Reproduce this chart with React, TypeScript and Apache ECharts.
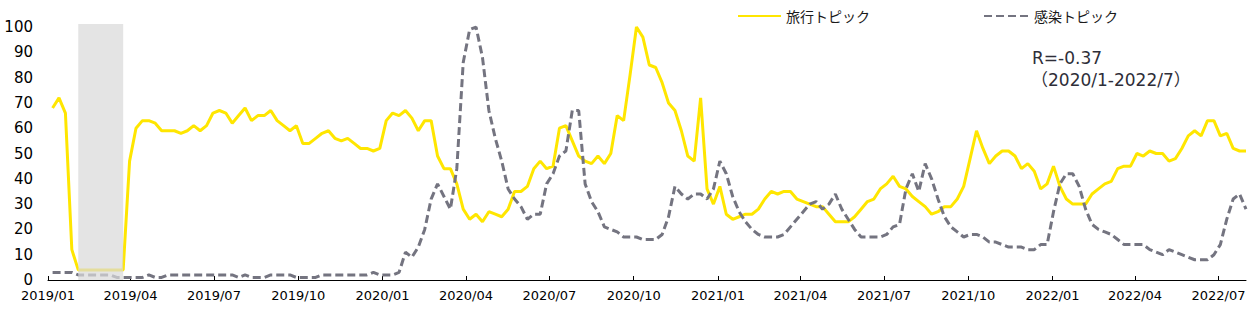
import React, { useEffect, useRef } from "react";
import * as echarts from "echarts";

// Weekly Google-Trends style series, first week starting 2019/01/06
const firstWeek = [2019, 0, 6];
const travelTopic = [
  68, 72, 66, 12, 4, 4, 4, 4, 4, 4, 4, 4,
  47, 60, 63, 63, 62, 59, 59, 59, 58, 59, 61, 59,
  61, 66, 67, 66, 62, 65, 68, 63, 65, 65, 67, 63,
  61, 59, 61, 54, 54, 56, 58, 59, 56, 55, 56,
  54, 52, 52, 51, 52, 63, 66, 65, 67, 64, 59, 63, 63,
  49, 44, 44, 38, 28, 24, 26, 23, 27, 26,
  25, 28, 35, 35, 37, 44, 47, 44, 45, 60, 61,
  55, 49, 47, 46, 49, 46, 50, 65, 63, 81, 100, 96, 85,
  84, 78, 70, 67, 59, 49, 47, 72, 36, 30, 37,
  26, 24, 25, 26, 26, 28, 32, 35, 34, 35, 35, 32,
  31, 30, 29, 29, 26, 23, 23, 23, 25, 28, 31, 32,
  36, 38, 41, 37, 36, 33, 31, 29, 26, 27, 29, 29,
  32, 37, 48, 59, 52, 46, 49, 51, 51, 49, 44, 46, 43,
  36, 38, 45, 37, 32, 30, 30, 30, 34, 36,
  38, 39, 44, 45, 45, 50, 49, 51, 50, 50, 47, 48,
  52, 57, 59, 57, 63, 63, 57, 58, 52, 51, 51,
];
const infectionTopic = [
  3, 3, 3, 3, 2, 2, 2, 2, 2, 2,
  1, 1, 1, 1, 1, 2, 1, 1,
  2, 2, 2, 2, 2, 2, 2, 2, 2, 2, 2,
  1, 2, 1, 1, 1, 2, 2, 2, 2, 1, 1, 1, 1,
  2, 2, 2, 2, 2, 2, 2, 2, 3, 2, 2, 2, 3,
  11, 9, 13, 20, 32, 38, 33, 28, 44, 86, 99, 100, 88, 67, 56,
  47, 36, 32, 29, 24, 26, 26, 38, 42, 49, 51,
  67, 67, 38, 31, 27, 21, 20, 19, 17, 17, 17, 16, 16,
  16, 18, 25, 37, 34, 32, 34, 34, 32, 36, 47,
  42, 33, 27, 23, 20, 18, 17, 17, 17, 18, 21, 24,
  27, 30, 31, 28, 30, 34, 28, 24, 20, 17, 17, 17,
  17, 18, 21, 22, 36, 42, 35, 46, 40, 32, 25, 21,
  19, 17, 18, 18, 17, 15, 15, 14, 13, 13, 13, 12, 12,
  14, 14, 27, 38, 42, 42, 37, 28, 22, 20,
  19, 18, 16, 14, 14, 14, 14, 12, 11, 10, 12, 11,
  10, 9, 8, 8, 8, 10, 14, 24, 32, 34, 28,
];
const quarterLabels = [
  "2019/01", "2019/04", "2019/07", "2019/10",
  "2020/01", "2020/04", "2020/07", "2020/10",
  "2021/01", "2021/04", "2021/07", "2021/10",
  "2022/01", "2022/04", "2022/07",
];
const yTicks = [0, 10, 20, 30, 40, 50, 60, 70, 80, 90, 100];
const seriesNames = ["旅行トピック", "感染トピック"];
const shadedPeriod = ["2019/02/03", "2019/03/24"];
const axisRange = ["2019/01/01", "2022/07/31"];
const noteLines = ["R=-0.37", "（2020/1-2022/7）"];

const DAY = 86400000;
const parseDay = (s: string) => {
  const p = s.split("/").map(Number);
  return Math.round(Date.UTC(p[0], p[1] - 1, p[2] || 1) / DAY);
};
const weekDays = travelTopic.map((_, i) =>
  Math.round(Date.UTC(firstWeek[0], firstWeek[1], firstWeek[2] + 7 * i) / DAY)
);
const pad = (n: number) => (n < 10 ? "0" + n : "" + n);

export default function App() {
  const ref = useRef<HTMLDivElement>(null);
  useEffect(() => {
    if (!ref.current) return;
    const chart = echarts.init(ref.current, null, { renderer: "svg" });
    const tickValues = quarterLabels.map(parseDay);
    const legendText = {
      fontSize: 14,
      fontFamily: "Noto Sans CJK JP",
      color: "#1a1a1a",
    };
    const legendBase = {
      top: 4,
      itemHeight: 14,
      itemGap: 0,
      itemStyle: { opacity: 0 },
      textStyle: legendText,
    };
    chart.setOption({
      animation: false,
      backgroundColor: "#ffffff",
      grid: { left: 48, right: 11, top: 24, bottom: 32, containLabel: false },
      legend: [
        { ...legendBase, data: [seriesNames[0]], left: 732, itemWidth: 43 },
        { ...legendBase, data: [seriesNames[1]], left: 978, itemWidth: 45 },
      ],
      xAxis: {
        type: "value",
        min: parseDay(axisRange[0]),
        max: parseDay(axisRange[1]),
        splitLine: { show: false },
        axisLine: { show: true, lineStyle: { color: "#000000", width: 1 } },
        axisTick: {
          show: true,
          inside: true,
          length: 4,
          customValues: tickValues,
          lineStyle: { color: "#000000" },
        },
        axisLabel: {
          customValues: tickValues,
          margin: 9,
          fontSize: 13,
          fontFamily: "DejaVu Sans",
          color: "#000000",
          hideOverlap: false,
          formatter: (v: number) => {
            const d = new Date(v * DAY);
            return d.getUTCFullYear() + "/" + pad(d.getUTCMonth() + 1);
          },
        },
      },
      yAxis: {
        type: "value",
        min: 0,
        max: 101.2,
        interval: 10,
        splitLine: { show: false },
        axisLine: { show: false },
        axisTick: { show: false },
        axisLabel: {
          customValues: yTicks,
          margin: 15,
          fontSize: 15,
          fontFamily: "DejaVu Sans",
          color: "#000000",
        },
      },
      series: [
        {
          name: seriesNames[0],
          type: "line",
          symbol: "none",
          z: 2,
          data: weekDays.map((d, i) => [d, travelTopic[i]]),
          lineStyle: { color: "#FFE600", width: 3 },
          itemStyle: { color: "#FFE600" },
        },
        {
          name: seriesNames[1],
          type: "line",
          symbol: "none",
          z: 2,
          data: weekDays.map((d, i) => [d, infectionTopic[i]]),
          lineStyle: { color: "#747480", width: 3, type: [8, 4] },
          itemStyle: { color: "#747480" },
        },
        {
          name: "shade",
          type: "line",
          symbol: "none",
          z: 5,
          data: [],
          markArea: {
            silent: true,
            z: 5,
            itemStyle: { color: "rgba(217,217,217,0.72)" },
            data: [[{ xAxis: parseDay(shadedPeriod[0]) }, { xAxis: parseDay(shadedPeriod[1]) }]],
          },
        },
      ],
      graphic: [
        {
          type: "text",
          left: 1032,
          top: 49,
          style: {
            text: noteLines[0],
            fontSize: 17,
            fontFamily: "DejaVu Sans, Noto Sans CJK JP",
            fill: "#2e2e38",
          },
        },
        {
          type: "text",
          left: 1031,
          top: 71,
          style: {
            text: noteLines[1],
            fontSize: 17,
            fontFamily: "DejaVu Sans, Noto Sans CJK JP",
            fill: "#2e2e38",
          },
        },
      ],
    });
    return () => chart.dispose();
  }, []);
  return (
    <div
      ref={ref}
      style={{ position: "absolute", left: 0, top: 0, width: 1257, height: 312 }}
    />
  );
}
